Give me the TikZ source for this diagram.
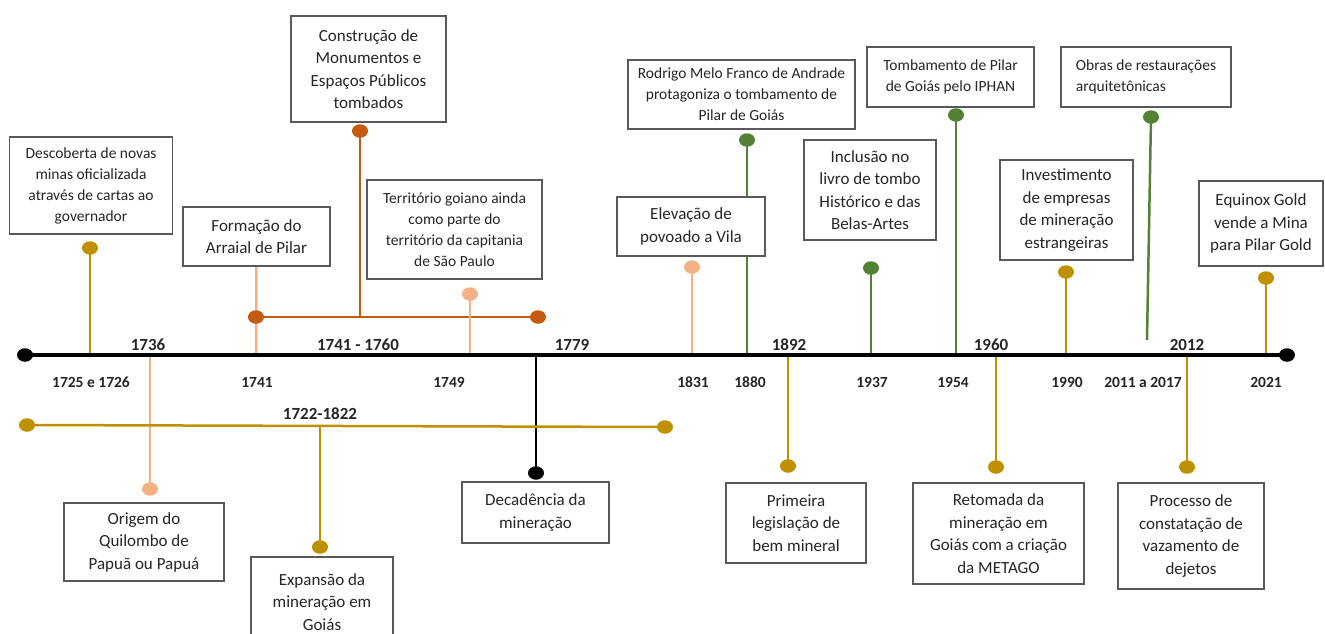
\documentclass[tikz,border=0pt]{standalone}
\usepackage{fontspec}
\setmainfont{Carlito}
\usetikzlibrary{backgrounds,shapes.geometric}
\definecolor{gold}{HTML}{BF9000}
\definecolor{brn}{HTML}{C55A11}
\definecolor{sal}{HTML}{F4B183}
\definecolor{grn}{HTML}{548235}
\definecolor{txt}{HTML}{262626}
\begin{document}
\begin{tikzpicture}[x=1pt,y=-1pt,
 box/.style={draw=black!65, line width=1.2pt, fill=white, inner sep=2pt, align=center, text=txt},
 big/.style={box, font=\fontsize{17}{22.5}\selectfont},
 small/.style={box, font=\fontsize{15.5}{21}\selectfont},
 dot/.style={ellipse, fill=#1, inner sep=0pt, minimum width=16pt, minimum height=13.5pt},
 stem/.style={draw=#1, line width=2.5pt},
 yr/.style={font=\bfseries\fontsize{17}{20}\selectfont, text=txt},
 yrb/.style={font=\bfseries\fontsize{15.5}{18}\selectfont, text=txt},
]
\useasboundingbox (0,0) rectangle (1325,633);

% axis
\node[dot=black] (ax0) at (25,355) {};
\node[dot=black] (ax1) at (1287,355) {};
\draw[line width=4pt] (ax0.center) -- (ax1.center);

% axis coordinates
\foreach \n/\x in {a1725/90, a1736/150, a1741/256, a1749/470, a1779/536, a1831/692, a1880/747, a1892/788, a1937/871, a1954/956, a1960/996, a1990/1066, a2012/1187, a2021/1266}
  \coordinate (\n) at (\x,355);
\coordinate (e2011) at (1147,340);

% year labels above
\node[yr] (y1736) at (148,345) {1736};
\node[yr] (y1741b) at (358,345) {1741 - 1760};
\node[yr] (y1779) at (572,345) {1779};
\node[yr] (y1892) at (789,345) {1892};
\node[yr] (y1960) at (991,345) {1960};
\node[yr] (y2012) at (1187,345) {2012};
\node[yr] (y1722) at (320,414) {1722-1822};
% year labels below
\node[yrb] (l1725) at (91,382) {1725 e 1726};
\node[yrb] (l1741) at (257,382) {1741};
\node[yrb] (l1749) at (449,382) {1749};
\node[yrb] (l1831) at (693,382) {1831};
\node[yrb] (l1880) at (750,382) {1880};
\node[yrb] (l1937) at (872,382) {1937};
\node[yrb] (l1954) at (953,382) {1954};
\node[yrb] (l1990) at (1067,382) {1990};
\node[yrb] (l2011) at (1143,382) {2011 a 2017};
\node[yrb] (l2021) at (1266,382) {2021};

% dots
\node[dot=gold] (d1725) at (90,248) {};
\node[dot=brn] (br0) at (256,317) {};
\node[dot=brn] (br1) at (538,317) {};
\coordinate (brm) at (360,317);
\node[dot=brn] (d1741b) at (360,131) {};
\node[dot=sal] (d1749) at (470,294) {};
\node[dot=sal] (d1736) at (150,489) {};
\node[dot=black] (d1779) at (536,473) {};
\node[dot=gold] (g0) at (27,425) {};
\node[dot=gold] (g1) at (665,427) {};
\coordinate (gm) at (320,425.5);
\node[dot=gold] (d1722) at (320,547) {};
\node[dot=sal] (d1831) at (692,267) {};
\node[dot=grn] (d1880) at (747,140) {};
\node[dot=gold] (d1892) at (788,466) {};
\node[dot=grn] (d1937) at (871,268) {};
\node[dot=grn] (d1954) at (956,115) {};
\node[dot=gold] (d1960) at (996,467) {};
\node[dot=gold] (d1990) at (1066,272) {};
\node[dot=grn] (d2011) at (1151,117) {};
\node[dot=gold] (d2012) at (1187,467) {};
\node[dot=gold] (d2021) at (1266,278) {};

% boxes
\node[small, minimum width=163pt, minimum height=97pt] (bA) at (91,185.5) {Descoberta de novas\\minas oficializada\\através de cartas ao\\governador};
\node[big, minimum width=155pt, minimum height=106pt] (bB) at (368.5,69) {Construção de\\Monumentos e\\Espaços Públicos\\tombados};
\node[big, minimum width=147pt, minimum height=59pt] (bC) at (256.5,236.5) {Formação do\\Arraial de Pilar};
\node[small, minimum width=175pt, minimum height=99pt] (bD) at (454.5,229.5) {Território goiano ainda\\como parte do\\território da capitania\\de São Paulo};
\node[small, minimum width=227pt, minimum height=69pt] (bE) at (741.5,94.5) {Rodrigo Melo Franco de Andrade\\protagoniza o tombamento de\\Pilar de Goiás};
\node[big, minimum width=148pt, minimum height=59pt] (bF) at (691,226.5) {Elevação de\\povoado a Vila};
\node[big, minimum width=132pt, minimum height=100pt] (bG) at (870,190) {Inclusão no\\livro de tombo\\Histórico e das\\Belas-Artes};
\node[small, minimum width=167pt, minimum height=60pt] (bH) at (950.5,77) {Tombamento de Pilar\\de Goiás pelo IPHAN};
\node[big, minimum width=133pt, minimum height=100pt] (bI) at (1066.5,210) {Investimento\\de empresas\\de mineração\\estrangeiras};
\node[small, align=left, minimum width=170pt, minimum height=60pt] (bJ) at (1146,77) {Obras de restaurações\\arquitetônicas};
\node[big, minimum width=124pt, minimum height=85pt] (bK) at (1261,223.5) {Equinox Gold\\vende a Mina\\para Pilar Gold};
\node[big, minimum width=160pt, minimum height=78pt] (bL) at (144,542) {Origem do\\Quilombo de\\Papuã ou Papuá};
\node[big, minimum width=142pt, minimum height=90pt] (bM) at (322,602) {Expansão da\\mineração em\\Goiás};
\node[big, minimum width=147pt, minimum height=61pt] (bN) at (535.5,512.5) {Decadência da\\mineração};
\node[big, minimum width=140pt, minimum height=80pt] (bO) at (796,523) {Primeira\\legislação de\\bem mineral};
\node[big, minimum width=171pt, minimum height=101pt] (bP) at (998.5,533.5) {Retomada da\\mineração em\\Goiás com a criação\\da METAGO};
\node[big, minimum width=146pt, minimum height=106pt] (bQ) at (1191,536) {Processo de\\constatação de\\vazamento de\\dejetos};

% stems (behind boxes and dots)
\begin{pgfonlayer}{background}
\draw[stem=gold] (d1725.center) -- (a1725);
\draw[stem=sal] (bC.south) -- (a1741);
\draw[stem=brn] (br0.center) -- (br1.center);
\draw[stem=brn] (brm) -- (d1741b.center);
\draw[stem=sal] (d1749.center) -- (a1749);
\draw[stem=sal] (a1736) -- (d1736.center);
\draw[stem=black] (a1779) -- (d1779.center);
\draw[stem=gold] (g0.center) -- (g1.center);
\draw[stem=gold] (gm) -- (d1722.center);
\draw[stem=sal] (d1831.center) -- (a1831);
\draw[stem=grn] (d1880.center) -- (a1880);
\draw[stem=gold] (a1892) -- (d1892.center);
\draw[stem=grn] (d1937.center) -- (a1937);
\draw[stem=grn] (d1954.center) -- (a1954);
\draw[stem=gold] (a1960) -- (d1960.center);
\draw[stem=gold] (d1990.center) -- (a1990);
\draw[stem=grn] (d2011.center) -- (e2011);
\draw[stem=gold] (a2012) -- (d2012.center);
\draw[stem=gold] (d2021.center) -- (a2021);
\end{pgfonlayer}
\end{tikzpicture}
\end{document}
